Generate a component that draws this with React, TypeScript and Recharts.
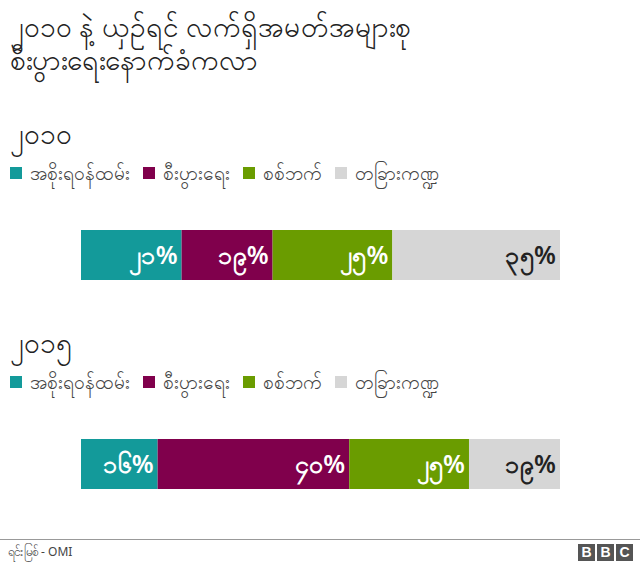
import React from 'react';
import { BarChart, Bar, XAxis, YAxis, Legend, LabelList } from 'recharts';

const seriesKeys = ['gov', 'biz', 'mil', 'other'];
const seriesNames = ['အစိုးရဝန်ထမ်း', 'စီးပွားရေး', 'စစ်ဘက်', 'တခြားကဏ္ဍ'];
const seriesColors = ['#139a9a', '#80004c', '#6a9c00', '#d6d6d6'];
const labelColors = ['#ffffff', '#ffffff', '#ffffff', '#222222'];

const years = ['၂၀၁၀', '၂၀၁၅'];
const values2010 = [21, 19, 25, 35];
const values2015 = [16, 40, 25, 19];

const titleLines = ['၂၀၁၀ နဲ့ ယှဉ်ရင် လက်ရှိအမတ်အများစု', 'စီးပွားရေးနောက်ခံကလာ'];
const sourceText = 'ရင်းမြစ် - OMI';

const myDigits = ['၀', '၁', '၂', '၃', '၄', '၅', '၆', '၇', '၈', '၉'];
const toMy = (n: number) => String(n).split('').map((d) => myDigits[Number(d)] ?? d).join('') + '%';

const FONT = '"Noto Sans", "DejaVu Sans", sans-serif';

function buildRow(year: string, vals: number[]) {
  const row: Record<string, any> = { year };
  seriesKeys.forEach((k, i) => (row[k] = vals[i]));
  return [row];
}

function LegendContent(props: any) {
  const items = [...(props.payload || [])].sort(
    (a: any, b: any) => seriesNames.indexOf(a.value) - seriesNames.indexOf(b.value)
  );
  return (
    <div style={{ display: 'flex', alignItems: 'center', fontFamily: FONT, height: 26 }}>
      {items.map((it: any) => (
        <div key={it.value} style={{ display: 'flex', alignItems: 'center', marginRight: 13 }}>
          <span style={{ width: 12, height: 12, background: it.color, display: 'inline-block', marginRight: 8 }} />
          <span style={{ color: '#444', fontSize: 19, lineHeight: '26px' }}>{it.value}</span>
        </div>
      ))}
    </div>
  );
}

function Section({ top, year, vals }: { top: number; year: string; vals: number[] }) {
  const data = buildRow(year, vals);
  return (
    <div style={{ position: 'absolute', left: 0, top, width: 640 }}>
      <div style={{ position: 'absolute', left: 10, top: -45, fontSize: 28, color: '#222', lineHeight: '36px' }}>{year}</div>
      <BarChart
        width={640}
        height={140}
        data={data}
        layout="vertical"
        margin={{ top: 34, right: 80, bottom: 10, left: 81 }}
        barCategoryGap={0}
      >
        <XAxis type="number" domain={[0, 100]} hide />
        <YAxis type="category" dataKey="year" hide />
        <Legend
          verticalAlign="top"
          align="left"
          wrapperStyle={{ top: 0, left: 10 }}
          content={<LegendContent />}
        />
        {seriesKeys.map((k, i) => (
          <Bar
            key={k}
            dataKey={k}
            name={seriesNames[i]}
            stackId="a"
            fill={seriesColors[i]}
            barSize={50}
            isAnimationActive={false}
          >
            <LabelList
              dataKey={k}
              position="insideRight"
              offset={4}
              formatter={(v: any) => toMy(Number(v))}
              style={{ fill: labelColors[i], fontSize: 25, fontWeight: 600, fontFamily: FONT }}
            />
          </Bar>
        ))}
      </BarChart>
    </div>
  );
}

export default function App() {
  return (
    <div
      style={{
        position: 'absolute',
        left: 0,
        top: 0,
        width: 640,
        height: 567,
        background: '#fff',
        fontFamily: FONT,
        overflow: 'hidden',
      }}
    >
      <div
        style={{
          position: 'absolute',
          left: 10,
          top: 10,
          fontSize: 28,
          lineHeight: '33px',
          color: '#222',
          whiteSpace: 'pre',
        }}
      >
        {titleLines.join('\n')}
      </div>
      <Section top={160} year={years[0]} vals={values2010} />
      <Section top={369} year={years[1]} vals={values2015} />
      <div style={{ position: 'absolute', left: 0, top: 539, width: 640, height: 1, background: '#999' }} />
      <div style={{ position: 'absolute', left: 8, top: 543, fontSize: 12, color: '#444' }}>{sourceText}</div>
      <div style={{ position: 'absolute', left: 578, top: 544, display: 'flex', gap: 2 }}>
        {['B', 'B', 'C'].map((c, i) => (
          <div
            key={i}
            style={{
              width: 17,
              height: 17,
              background: '#555',
              color: '#fff',
              fontSize: 14,
              fontWeight: 700,
              lineHeight: '17px',
              textAlign: 'center',
              fontFamily: 'Arial, "Liberation Sans", sans-serif',
            }}
          >
            {c}
          </div>
        ))}
      </div>
    </div>
  );
}
